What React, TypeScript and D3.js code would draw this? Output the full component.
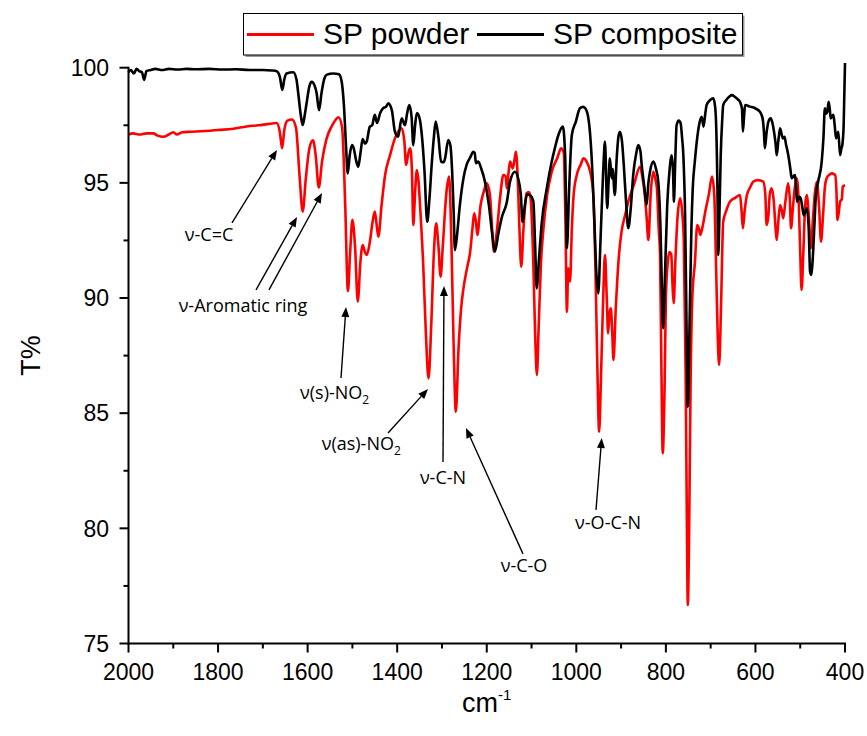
import React from 'react';
import * as d3 from 'd3';

type Pt = [number, number];

// SP powder (red) : [wavenumber cm-1, T%]
const powderData: Pt[] = [
  [2000,97.1],[1990,97.15],[1975,97.1],[1960,97.15],[1945,97.15],[1935,97.05],[1922,97.0],[1910,97.1],[1900,97.2],[1892,97.1],[1880,97.2],[1860,97.22],[1830,97.25],[1796,97.3],[1766,97.35],[1736,97.45],[1710,97.5],[1690,97.55],[1669,97.6],[1662,97.2],[1657,96.5],[1652,97.3],[1645,97.7],[1635,97.75],[1626,97.4],[1618,95.3],[1611,93.75],[1604,95.2],[1596,96.5],[1588,96.85],[1582,96.2],[1575,94.8],[1568,95.9],[1558,96.9],[1545,97.5],[1531,97.85],[1523,97.4],[1516,94.0],[1510,90.3],[1505,92.0],[1500,93.4],[1494,92.2],[1488,89.85],[1482,91.6],[1477,92.3],[1472,92.0],[1468,91.87],[1461,92.44],[1455,93.3],[1450,93.75],[1446,93.2],[1442,92.66],[1435,94.0],[1427,95.34],[1416,96.2],[1405,96.93],[1390,97.37],[1384,96.8],[1380,95.78],[1375,96.3],[1371,96.5],[1367,95.5],[1364,93.17],[1360,94.6],[1356,95.56],[1352,95.0],[1349,94.04],[1342,91.5],[1336,88.5],[1330,86.51],[1324,88.8],[1318,92.0],[1313,93.24],[1308,92.3],[1303,90.93],[1298,92.3],[1290,94.6],[1284,95.27],[1279,92.5],[1274,88.0],[1269,85.06],[1263,87.8],[1257,89.6],[1252,90.42],[1244,91.3],[1237,92.01],[1232,93.0],[1228,93.68],[1224,93.3],[1221,92.74],[1214,94.0],[1207,94.6],[1200,94.98],[1193,94.5],[1188,93.0],[1184,92.01],[1178,92.8],[1170,94.4],[1163,95.34],[1158,95.3],[1155,94.76],[1151,95.5],[1148,95.92],[1142,95.63],[1138,96.0],[1135,96.35],[1131,95.3],[1127,93.0],[1123,91.36],[1118,93.0],[1111,94.55],[1106,94.6],[1102,94.33],[1096,91.5],[1092,88.5],[1088,86.66],[1084,88.8],[1079,91.5],[1074,92.88],[1065,94.5],[1055,95.48],[1042,96.1],[1034,96.5],[1028,96.3],[1024,93.0],[1021,89.4],[1018,91.29],[1014,90.71],[1010,93.0],[1006,94.47],[999,95.34],[990,95.8],[984,96.07],[977,95.92],[969,95.48],[962,94.47],[957,91.0],[953,87.0],[949,84.2],[945,86.5],[940,90.0],[936,91.87],[932,90.0],[929,88.47],[926,89.3],[923,89.55],[920,88.6],[917,87.31],[912,89.5],[905,91.8],[899,92.88],[891,93.6],[884,94.18],[870,95.0],[858,95.7],[852,95.2],[847,94.47],[843,93.5],[839,92.52],[834,94.5],[828,95.48],[824,95.2],[820,94.76],[816,93.0],[813,91.87],[810,87.0],[807,83.26],[803,86.0],[800,90.0],[796,91.5],[792,92.0],[788,91.9],[785,90.5],[782.5,89.77],[779,91.5],[774,93.5],[768,94.33],[763,93.6],[760,92.5],[756,87.0],[753,80.0],[751,76.67],[748,80.0],[745,86.0],[741,90.0],[735,91.58],[730,93.17],[726,93.0],[723,92.74],[717,93.2],[712,93.75],[704,94.5],[697,95.27],[692,94.5],[688,91.5],[684,88.2],[681,87.09],[677,89.5],[672,93.3],[665,93.8],[657,94.18],[645,94.35],[634.5,94.47],[631,93.8],[628,93.03],[624,93.8],[619,94.47],[612,94.8],[605,95.05],[595,95.12],[582.5,95.05],[578,94.5],[575,93.17],[571,93.6],[568,94.5],[564,94.76],[559,94.2],[555,93.0],[552.5,92.52],[549,93.3],[545,94.04],[541,93.8],[538,93.46],[533,94.2],[527,94.98],[523,94.2],[520.6,93.03],[516,94.0],[512,94.8],[508,95.2],[503,94.0],[500,92.0],[497,90.35],[493,92.0],[489,94.0],[485.5,94.47],[481,93.6],[476.5,92.16],[472,93.3],[467,94.6],[463,95.05],[458,94.0],[453.5,92.45],[449,93.6],[445,94.8],[441,95.2],[435,95.35],[429.5,95.41],[422,95.34],[419,94.6],[417,93.39],[414,93.7],[411,94.18],[407,94.3],[405,94.83],[400,94.9]
];

// SP composite (black) : [wavenumber cm-1, T%]
const compositeData: Pt[] = [
  [2000,99.8],[1995,99.9],[1988,99.75],[1982,99.95],[1976,99.85],[1970,99.8],[1965,99.47],[1960,99.85],[1950,99.9],[1940,99.95],[1925,99.9],[1910,99.95],[1890,99.92],[1870,99.95],[1850,99.93],[1820,99.95],[1790,99.92],[1760,99.93],[1730,99.9],[1700,99.9],[1680,99.88],[1669,99.85],[1662,99.6],[1656.5,99.03],[1652,99.5],[1647,99.75],[1632,99.8],[1625,99.5],[1621,98.9],[1615,97.9],[1611,97.51],[1606,98.0],[1602,98.5],[1596,99.2],[1591,99.39],[1584,99.2],[1580,98.9],[1574.5,98.16],[1569,98.9],[1563,99.5],[1557,99.7],[1543,99.75],[1530,99.72],[1524,99.4],[1519,98.38],[1514,96.5],[1510.5,95.41],[1506,96.2],[1501,96.64],[1497,96.5],[1492,96.0],[1487,95.7],[1482,96.3],[1477,96.9],[1472,96.7],[1468,96.8],[1461,97.44],[1456,97.5],[1450,97.95],[1445,97.6],[1438,98.03],[1431,98.25],[1425,98.3],[1420,98.45],[1412,98.16],[1405,97.22],[1398,97.0],[1390,97.8],[1382.5,97.5],[1378,98.0],[1373,98.38],[1368,97.9],[1364,96.64],[1360,97.5],[1356,98.03],[1350,97.8],[1345,97.08],[1339,95.5],[1333,93.31],[1328,94.3],[1323,95.78],[1318,97.0],[1314,97.66],[1308,97.0],[1302,95.92],[1296,95.9],[1293,96.07],[1286,96.86],[1281,96.6],[1278,95.78],[1274,93.8],[1271,92.08],[1266,92.8],[1260,94.04],[1252,95.2],[1245,95.78],[1237,96.1],[1230,96.35],[1227,96.3],[1224,95.85],[1219,95.92],[1212,95.6],[1204,95.05],[1195,94.0],[1188,92.8],[1182,92.01],[1174,92.8],[1167,93.46],[1155,94.18],[1148,95.05],[1137,95.48],[1130,95.2],[1124,94.5],[1120,93.3],[1115,94.0],[1110,94.5],[1103.5,94.47],[1096,94.2],[1092,92.3],[1088.5,90.42],[1083,91.8],[1077,93.3],[1066,94.76],[1055,95.92],[1048,96.5],[1040,97.08],[1030,97.44],[1025,96.2],[1021,92.16],[1016,94.76],[1010,97.08],[1001,97.66],[992,98.24],[985,98.3],[980,98.24],[973,97.8],[966,96.2],[960,93.5],[955,91.0],[951,90.2],[946,92.5],[940,95.5],[936,96.79],[931,93.9],[928,95.0],[925,96.07],[921,95.2],[919,95.6],[914,94.47],[910,96.0],[906,97.0],[902.5,97.22],[898,96.8],[894,95.78],[889,94.2],[884,93.03],[878,94.0],[873,95.34],[866,96.3],[861.6,96.64],[857,96.4],[854,95.78],[848,94.8],[843,94.04],[839,95.0],[835.5,95.48],[828,95.92],[822,95.6],[817,95.05],[812,93.0],[809,90.5],[806,88.68],[802,91.0],[797,94.04],[792,95.5],[787,96.2],[784,95.5],[782,94.18],[779,96.0],[776,97.51],[771,97.7],[767,97.58],[764,97.0],[761,96.2],[757,93.5],[754,89.0],[751,85.28],[747,89.0],[743,93.0],[740,94.76],[735,96.0],[731,96.79],[725,97.6],[720,97.87],[716,97.44],[712,98.0],[709,98.38],[701,98.6],[694,98.67],[690,98.3],[688,97.66],[685,95.0],[683,91.87],[680,94.0],[677.5,96.2],[674,97.8],[672,98.38],[665,98.6],[658,98.75],[653,98.81],[647,98.75],[642,98.67],[634.5,98.52],[630,98.2],[628,97.22],[625,98.0],[623,98.38],[612,98.31],[601,98.24],[590,98.09],[584,97.8],[581,97.2],[579,96.5],[575,97.2],[571,97.66],[566,97.8],[562,97.6],[558.5,97.22],[555,96.7],[552.5,96.2],[549,96.8],[545,97.37],[539,96.93],[535,97.0],[532,96.7],[526.6,96.2],[522,95.6],[519,95.2],[512,95.34],[506.5,94.18],[502,94.4],[499,94.33],[495,93.9],[492,93.6],[485.5,93.9],[481,93.0],[478,91.14],[475,91.0],[472,91.72],[468,93.3],[465,94.47],[460,95.05],[452,95.92],[448,97.0],[445,98.24],[442,98.0],[439.5,98.09],[436.5,98.52],[434,98.2],[432,97.8],[426,97.95],[423,97.5],[420,96.93],[415,97.22],[411,96.2],[408,96.5],[406,96.64],[403,97.5],[400,100.2]
];

const xTicks = [2000, 1800, 1600, 1400, 1200, 1000, 800, 600, 400];
const xMinorTicks = [1900, 1700, 1500, 1300, 1100, 900, 700, 500];
const yTicks = [75, 80, 85, 90, 95, 100];
const yMinorTicks = [77.5, 82.5, 87.5, 92.5, 97.5];
const seriesNames = ['SP powder', 'SP composite'];
const seriesColors = ['#ff0000', '#000000'];

// annotations: label, subscript, arrows [tailWn, tailT, tipWn, tipT], text anchor point [wn, T]
type Ann = { label: string; sub?: string; arrows: number[][]; at: Pt; anchor: 'start' | 'middle' };
const annotations: Ann[] = [
  { label: 'ν-C=C', arrows: [[1768.9, 93.26, 1668.4, 96.43]], at: [1820, 92.48], anchor: 'middle' },
  { label: 'ν-Aromatic ring', arrows: [[1715.3, 90.35, 1623.7, 93.52], [1686.3, 90.35, 1567.9, 94.56]], at: [1744.3, 89.41], anchor: 'middle' },
  { label: 'ν(s)-NO', sub: '2', arrows: [[1525.5, 86.53, 1514.3, 89.61]], at: [1617, 85.62], anchor: 'start' },
  { label: 'ν(as)-NO', sub: '2', arrows: [[1420.5, 84.14, 1331.2, 86.05]], at: [1568.6, 83.4], anchor: 'start' },
  { label: 'ν-C-N', arrows: [[1297.7, 82.88, 1295.5, 90.52]], at: [1297.7, 81.93], anchor: 'middle' },
  { label: 'ν-C-O', arrows: [[1119.1, 78.89, 1246.4, 84.36]], at: [1116.8, 78.1], anchor: 'middle' },
  { label: 'ν-O-C-N', arrows: [[956, 80.8, 943.3, 83.92]], at: [929, 79.97], anchor: 'middle' },
];

const AX_FONT = "'Liberation Sans', Arial, sans-serif";
const ANN_FONT = "'Open Sans', 'Noto Sans', sans-serif";

function Arrow({ x1, y1, x2, y2 }: { x1: number; y1: number; x2: number; y2: number }) {
  const ang = Math.atan2(y2 - y1, x2 - x1);
  const hl = 10, hw = 4;
  const bx = x2 - hl * Math.cos(ang), by = y2 - hl * Math.sin(ang);
  const px = -Math.sin(ang) * hw, py = Math.cos(ang) * hw;
  return (
    <g>
      <line x1={x1} y1={y1} x2={bx} y2={by} stroke="#000" strokeWidth={1.4} />
      <polygon points={`${x2},${y2} ${bx + px},${by + py} ${bx - px},${by - py}`} fill="#000" />
    </g>
  );
}

export default function App() {
  const W = 867, H = 736;
  const x = d3.scaleLinear().domain([2000, 400]).range([128.5, 845]);
  const y = d3.scaleLinear().domain([75, 100]).range([643.5, 67.7]);
  const line = d3.line<Pt>().x(d => x(d[0])).y(d => y(d[1])).curve(d3.curveMonotoneX);
  const x0 = x(2000), yb = y(75);

  return (
    <svg width={W} height={H} style={{ position: 'absolute', left: 0, top: 0, background: '#fff' }}>
      {/* series */}
      <path d={line(powderData) || ''} fill="none" stroke={seriesColors[0]} strokeWidth={2.6} strokeLinejoin="round" />
      <path d={line(compositeData) || ''} fill="none" stroke={seriesColors[1]} strokeWidth={2.6} strokeLinejoin="round" />

      {/* axes */}
      <line x1={x0} y1={y(100) - 1} x2={x0} y2={yb + 1} stroke="#000" strokeWidth={2} />
      <line x1={x0 - 1} y1={yb} x2={x(400) + 1} y2={yb} stroke="#000" strokeWidth={2} />
      {yTicks.map(t => (
        <g key={'y' + t}>
          <line x1={x0 - 9} x2={x0} y1={y(t)} y2={y(t)} stroke="#000" strokeWidth={2} />
          <text x={109} y={y(t)} dy="0.36em" textAnchor="end" fontFamily={AX_FONT} fontSize={23}>{t}</text>
        </g>
      ))}
      {yMinorTicks.map(t => (
        <line key={'ym' + t} x1={x0 - 5} x2={x0} y1={y(t)} y2={y(t)} stroke="#000" strokeWidth={2} />
      ))}
      {xTicks.map(t => (
        <g key={'x' + t}>
          <line x1={x(t)} x2={x(t)} y1={yb} y2={yb + 9} stroke="#000" strokeWidth={2} />
          <text x={x(t)} y={680} textAnchor="middle" fontFamily={AX_FONT} fontSize={23}>{t}</text>
        </g>
      ))}
      {xMinorTicks.map(t => (
        <line key={'xm' + t} x1={x(t)} x2={x(t)} y1={yb} y2={yb + 5} stroke="#000" strokeWidth={2} />
      ))}

      {/* axis titles */}
      <text transform={`translate(40, ${(y(100) + yb) / 2}) rotate(-90)`} textAnchor="middle" fontFamily={AX_FONT} fontSize={27}>T%</text>
      <text x={(x(2000) + x(400)) / 2} y={712} textAnchor="middle" fontFamily={AX_FONT} fontSize={27}>
        cm<tspan fontSize={15} dy={-12}>-1</tspan>
      </text>

      {/* annotations */}
      {annotations.map((a, i) => (
        <g key={'a' + i}>
          {a.arrows.map((ar, j) => (
            <Arrow key={j} x1={x(ar[0])} y1={y(ar[1])} x2={x(ar[2])} y2={y(ar[3])} />
          ))}
          <text x={x(a.at[0])} y={y(a.at[1])} textAnchor={a.anchor} fontFamily={ANN_FONT} fontSize={18} fill="#000">
            {a.label}
            {a.sub ? <tspan fontSize={12} dy={5}>{a.sub}</tspan> : null}
          </text>
        </g>
      ))}

      {/* legend */}
      <rect x={245.5} y={15.5} width={499} height={41.5} fill="#999" />
      <rect x={243.5} y={13.5} width={499} height={41.5} fill="#fff" stroke="#000" strokeWidth={1} />
      <line x1={247} x2={314} y1={34.5} y2={34.5} stroke={seriesColors[0]} strokeWidth={3} />
      <text x={323} y={44} fontFamily={AX_FONT} fontSize={30}>{seriesNames[0]}</text>
      <line x1={477} x2={544} y1={34.5} y2={34.5} stroke={seriesColors[1]} strokeWidth={3} />
      <text x={553} y={44} fontFamily={AX_FONT} fontSize={30}>{seriesNames[1]}</text>
    </svg>
  );
}
